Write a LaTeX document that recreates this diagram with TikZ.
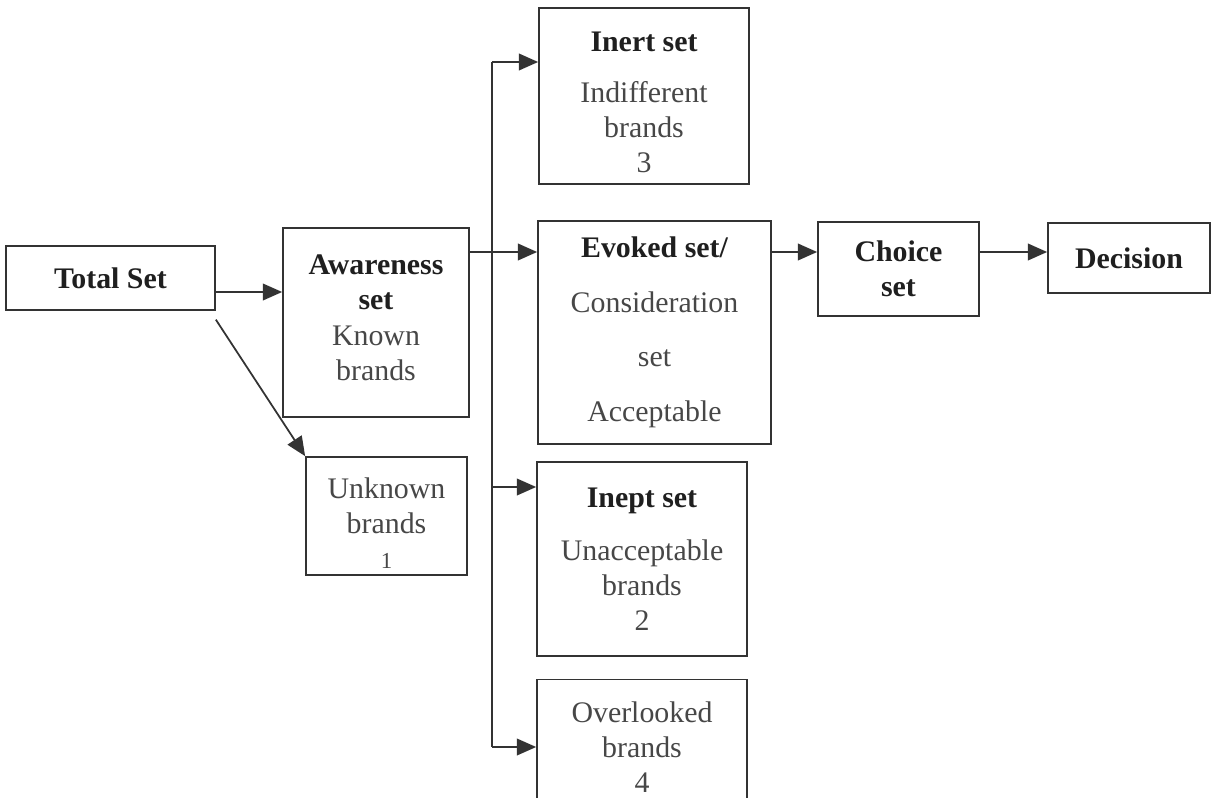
\documentclass[tikz,border=0pt]{standalone}
\usepackage{fontspec}
\setmainfont{Liberation Serif}
\usetikzlibrary{arrows.meta}

\definecolor{inkline}{gray}{0.2}
\definecolor{inktitle}{gray}{0.12}
\definecolor{inktext}{gray}{0.28}
\newcommand{\settitle}[1]{{\bfseries\color{inktitle}#1}}

\begin{document}
\begin{tikzpicture}[x=0.02cm,y=-0.02cm,
setbox/.style={draw=inkline, line width=1pt, align=center, inner sep=0pt, text=inktext, font=\fontsize{17}{20}\selectfont},
flow/.style={draw=inkline, line width=1pt, -{Triangle[length=11pt,width=9.5pt]}},
wire/.style={draw=inkline, line width=1pt}
]
\useasboundingbox (0,0) rectangle (1212,797);

\node[setbox, minimum width=4.18cm, minimum height=1.28cm](total) at (110.5,278){\settitle{Total Set}};
\node[setbox, minimum width=3.72cm, minimum height=3.78cm](aware) at (376,322.5){\settitle{Awareness}\\ \settitle{set}\\ Known\\ brands\rule[-5.6pt]{0pt}{5.6pt}};
\node[setbox, minimum width=3.22cm, minimum height=2.36cm](unknown) at (386.5,516){\rule{0pt}{20pt}Unknown\\ brands\\ {\fontsize{13}{20}\selectfont 1}};

\node[setbox, minimum width=4.2cm, minimum height=3.52cm](inert) at (644,96){\rule{0pt}{18pt}\settitle{Inert set}\\[9pt] Indifferent\\ brands\\ 3};
\node[setbox, minimum width=4.66cm, minimum height=4.46cm](evoked) at (654.5,332.5){\settitle{Evoked set/}\\[11pt] Consideration\\[11pt] set\\[11pt] Acceptable};
\node[setbox, minimum width=4.2cm, minimum height=3.88cm](inept) at (642,559){\settitle{Inept set}\\[10pt] Unacceptable\\ brands\\ 2};
\node[setbox, minimum width=4.2cm, minimum height=2.7cm](overlooked) at (642,747){Overlooked\\ brands\\ 4};

\node[setbox, minimum width=3.22cm, minimum height=1.88cm](choice) at (898.5,269){\settitle{Choice}\\ \settitle{set}};
\node[setbox, minimum width=3.24cm, minimum height=1.4cm](decision) at (1129,258){\settitle{Decision}};

% split points of the branch line
\coordinate (row) at (0,252);
\coordinate (bustop) at (492,62);
\coordinate (busbot) at (492,747);
\coordinate (busmid) at (492,487);

\draw[flow] (total.east |- 0,292) -- (aware.west |- 0,292);
\draw[flow] ([yshift=-5pt]total.south east) -- (unknown.north west);

\draw[flow] (aware.east |- row) -- (evoked.west |- row);
\draw[wire] (bustop) -- (busbot);
\draw[flow] (bustop) -- (inert.west |- bustop);
\draw[flow] (busmid) -- (inept.west |- busmid);
\draw[flow] (busbot) -- (overlooked.west |- busbot);

\draw[flow] (evoked.east |- row) -- (choice.west |- row);
\draw[flow] (choice.east |- row) -- (decision.west |- row);
\end{tikzpicture}
\end{document}
